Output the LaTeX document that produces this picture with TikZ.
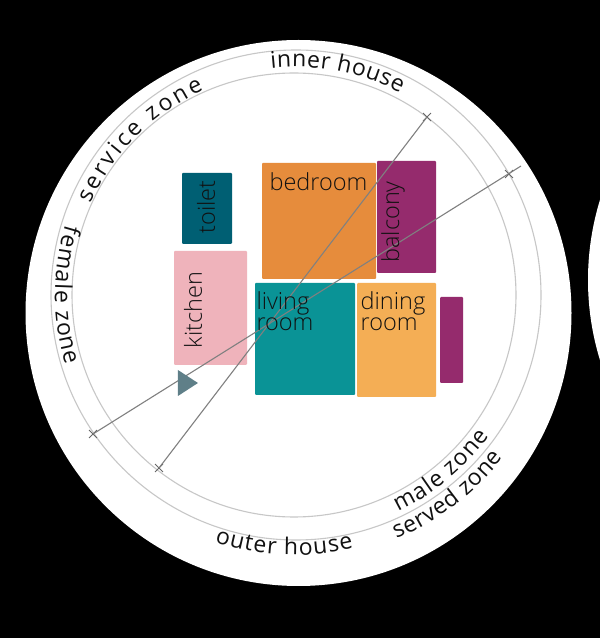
\documentclass[tikz,border=0pt]{standalone}
\usepackage{fontspec}
\setmainfont{Open Sans Light}
\newfontfamily\ringfam{Open Sans}
\usepackage{xcolor}
\usetikzlibrary{decorations.text,shapes.misc,shapes.geometric}
\definecolor{hstoilet}{HTML}{005F73}
\definecolor{hskitchen}{HTML}{EFB3BB}
\definecolor{hsbed}{HTML}{E68C3C}
\definecolor{hsbalcony}{HTML}{952B6D}
\definecolor{hsliving}{HTML}{0A9396}
\definecolor{hsdining}{HTML}{F4AE55}
\definecolor{hsink}{HTML}{111111}
\definecolor{hsentry}{HTML}{5F7F88}
\newcommand{\ringfont}{\ringfam\fontsize{23}{23}\selectfont}
\tikzset{
  room/.style={inner sep=0pt,rounded corners=1pt,draw=none},
  roomtxt/.style={inner sep=0pt,align=left,text=hsink,font=\fontsize{23.5}{21}\selectfont},
  ring/.style={draw=black!22,line width=1.1pt},
  ringlabel/.style={decorate,decoration={text along path,text align={fit to path},
    text color=hsink,text={|\ringfont|#1}}},
  axisline/.style={draw=black!50,line width=1.1pt},
  tick/.style={cross out,draw=black!60,line width=0.9pt,minimum size=7pt,inner sep=0pt},
}
\begin{document}
\begin{tikzpicture}[x=1pt,y=1pt]
\useasboundingbox (0,0) rectangle (600,638);
\clip (0,0) rectangle (600,638);
\fill[black] (0,0) rectangle (600,638);
\fill[white] (298.5,325) circle[radius=273];
\fill[white] (860,358) circle[radius=272];
\coordinate (ringc) at (295,343);
\draw[ring] (296,343) circle[radius=245];
\draw[ring] (294,343) circle[radius=222];
% rooms
\node[room,fill=hstoilet,minimum width=50,minimum height=71] (toilet) at (207,429.5) {};
\node[room,fill=hskitchen,minimum width=73,minimum height=114] (kitchen) at (210.5,330) {};
\node[room,fill=hsbed,minimum width=114,minimum height=116] (bedroom) at (319,417) {};
\node[room,fill=hsbalcony,minimum width=59,minimum height=112] (balcony) at (406.5,421) {};
\node[room,fill=hsliving,minimum width=100,minimum height=112] (living) at (305,299) {};
\node[room,fill=hsdining,minimum width=79,minimum height=114] (dining) at (396.5,298) {};
\node[room,fill=hsbalcony,minimum width=23,minimum height=86] (store) at (451.5,298) {};
% axes
\node[tick] (innerne) at (427,521) {};
\node[tick] (innersw) at (159,170) {};
\node[tick] (outerne) at (509,464) {};
\node[tick] (outersw) at (93,204) {};
\coordinate (outerend) at (521,472);
\draw[axisline] (innerne.center) -- (innersw.center);
\draw[axisline] (outerend) -- (outersw.center);
\node[isosceles triangle,isosceles triangle stretches,fill=hsentry,inner sep=0pt,
  minimum height=20,minimum width=26] (entry) at (185,255) {};
% labels
\node[roomtxt,rotate=90] (toilettxt) at (206,431) {toilet};
\node[roomtxt,rotate=90] (kitchentxt) at (193,328) {kitchen};
\node[roomtxt] (bedroomtxt) at (318.5,456) {bedroom};
\node[roomtxt,rotate=90] (balconytxt) at (393,416) {balcony};
\node[roomtxt] (livingtxt) at (285,327) {living\\room};
\node[roomtxt] (diningtxt) at (393,327) {dining\\room};
\path[ringlabel={inner house}] (ringc) ++(96:228) arc[start angle=96,end angle=62.5,radius=228];
\path[ringlabel={service zone}] (ringc) ++(156:224) arc[start angle=156,end angle=114,radius=224];
\path[ringlabel={female zone}] (ringc) ++(163:240) arc[start angle=163,end angle=197,radius=240];
\path[ringlabel={male zone}] (ringc) ++(-64.6:240) arc[start angle=-64.6,end angle=-36,radius=240];
\path[ringlabel={served zone}] (ringc) ++(-67.4:264) arc[start angle=-67.4,end angle=-38,radius=264];
\path[ringlabel={outer house}] (ringc) ++(-108:260) arc[start angle=-108,end angle=-77,radius=260];
\end{tikzpicture}
\end{document}
